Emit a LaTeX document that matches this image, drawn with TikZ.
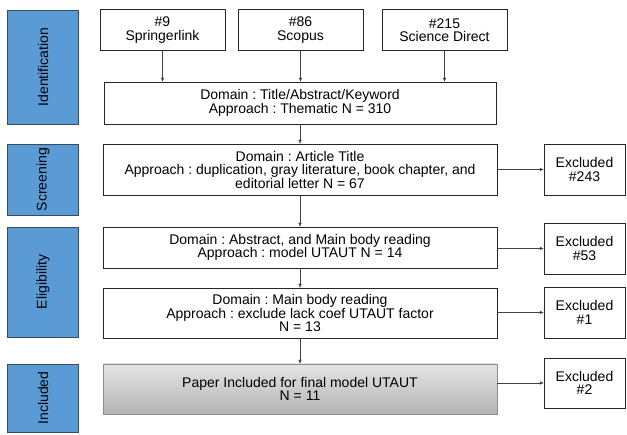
\documentclass[tikz,border=0pt]{standalone}
\usepackage{fontspec}
\setmainfont{Liberation Sans}
\usepackage{tikz}
\usetikzlibrary{arrows.meta}
\usetikzlibrary{positioning}
\frenchspacing
\definecolor{phaseblue}{RGB}{91,155,213}
\definecolor{phaseedge}{RGB}{55,75,100}
\tikzset{phase/.style = {draw=phaseedge, fill=phaseblue, minimum width=71pt,
                         inner sep=0pt, font=\fontsize{14}{13.5}\selectfont},
         stagebox/.style = {draw=black!85, fill=white, align=center, inner sep=0pt,
                            font=\fontsize{14}{13.5}\selectfont},
         arr/.style = {draw=black!75, -{Latex[length=4pt,width=3.5pt]}}}

\begin{document}
\begin{tikzpicture}[x=1pt, y=-1pt]
     \useasboundingbox (0, 0) rectangle (627, 435);
     % phases
     \node [phase, minimum height=114pt] (idph) at (43, 67) {\rotatebox{90}{Identification}};
     \node [phase, minimum height=71pt] (scph) at (43, 179.5) {\rotatebox{90}{Screening}};
     \node [phase, minimum height=110pt] (elph) at (43, 282) {\rotatebox{90}{Eligibility}};
     \node [phase, minimum height=68pt] (inph) at (43, 398) {\rotatebox{90}{Included}};
     % sources
     \node [stagebox, minimum width=125pt, minimum height=41pt] (springer) at (162.5, 30) {\#9\\Springerlink};
     \node [stagebox, minimum width=125pt, minimum height=41pt] (scopus) at (300.5, 30) {\#86\\Scopus};
     \node [stagebox, minimum width=125pt, minimum height=41pt] (scidirect) at (444.5, 30) {\#215\\Science Direct};
     % stages
     \node [stagebox, minimum width=392pt, minimum height=42pt] (ident) at (300, 103) {Domain : Title/Abstract/Keyword\\Approach : Thematic N = 310};
     \node [stagebox, minimum width=394pt, minimum height=51pt] (screen) at (300, 169.5) {Domain : Article Title\\Approach : duplication, gray literature, book chapter, and\\editorial letter N = 67};
     \node [stagebox, minimum width=394pt, minimum height=41pt] (abstr) at (300, 247.5) {Domain : Abstract, and Main body reading\\Approach : model UTAUT N = 14};
     \node [stagebox, minimum width=394pt, minimum height=50pt] (body) at (300, 313) {Domain : Main body reading\\Approach : exclude lack coef UTAUT factor\\N = 13};
     \node [stagebox, draw=black!45, top color=black!10, bottom color=black!30, minimum width=394pt, minimum height=50pt] (final) at (300, 389) {Paper Included for final model UTAUT\\N = 11};
     % excluded
     \node [stagebox, minimum width=81pt, minimum height=51pt] (ex1) at (584.5, 169.5) {Excluded\\\#243};
     \node [stagebox, minimum width=81pt, minimum height=51pt] (ex2) at (584.5, 248.5) {Excluded\\\#53};
     \node [stagebox, minimum width=81pt, minimum height=51pt] (ex3) at (584.5, 312.5) {Excluded\\\#1};
     \node [stagebox, minimum width=81pt, minimum height=50pt] (ex4) at (584.5, 383) {Excluded\\\#2};
     % arrows
     \draw [arr] (springer) -- (springer |- ident.north);
     \draw [arr] (scopus) -- (scopus |- ident.north);
     \draw [arr] (scidirect) -- (scidirect |- ident.north);
     \draw [arr] (ident) -- (screen);
     \draw [arr] (screen) -- (abstr);
     \draw [arr] (abstr) -- (body);
     \draw [arr] (body) -- (final);
     \draw [arr] (screen.east |- ex1) -- (ex1);
     \draw [arr] (abstr.east |- ex2) -- (ex2);
     \draw [arr] (body.east |- ex3) -- (ex3);
     \draw [arr] (final.east |- ex4) -- (ex4);
    \end{tikzpicture}
\end{document}
